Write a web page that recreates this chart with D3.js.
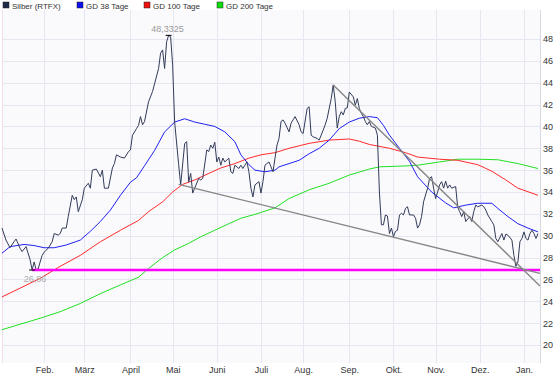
<!DOCTYPE html>
<html>
<head>
<meta charset="utf-8">
<script src="https://cdn.jsdelivr.net/npm/d3@7"></script>
<style>
  body { margin: 0; background: #fff; }
  svg { display: block; font-family: "Liberation Sans", Arial, sans-serif; }
</style>
</head>
<body>
<svg id="chart" width="553" height="376"></svg>
<script>
// trading day index (0 = 3 Jan 2011) and price
const silver = [
  [0,30.7],[2,29.6],[4,28.9],[6,29.45],[7,29.7],[9,28.85],[10,28.55],[12,29.0],[14,27.8],[15,26.86],
  [16,27.6],[17,26.9],[18,26.95],[19,27.6],[20,28.2],[21,28.5],[23,28.85],[25,29.45],[26,30.2],[28,30.05],
  [29,30.2],[30,30.7],[32,30.7],[33,31.75],[35,33.7],[36,33.3],[37,33.55],[38,32.2],[40,33.3],[41,34.35],
  [43,34.8],[44,34.35],[45,36.0],[47,36.1],[49,35.4],[50,36.0],[51,34.35],[53,34.35],[55,36.2],[56,36.6],
  [57,37.4],[59,37.2],[61,37.1],[63,37.7],[64,37.85],[65,39.2],[67,39.8],[68,40.1],[69,40.9],[70,40.15],
  [71,40.45],[73,42.25],[75,43.2],[76,43.9],[78,45.3],[79,46.7],[80,47.0],[81,45.3],[82,47.75],[83,48.3325],
  [84,48.2],[85,45.6],[86,40.4],[88,36.5],[89,34.65],[91,38.45],[92,38.6],[93,34.9],[94,35.7],[95,33.9],
  [96,34.35],[98,35.25],[99,35.1],[100,35.25],[102,37.85],[103,37.7],[104,38.3],[105,38.0],[106,38.55],[107,36.75],
  [108,37.2],[109,36.45],[110,37.1],[111,36.75],[113,37.1],[114,35.85],[115,35.7],[116,36.45],[118,36.15],[119,36.45],
  [120,36.15],[122,36.75],[123,35.85],[124,34.35],[125,33.55],[126,34.65],[128,34.95],[129,33.9],[130,34.95],[131,36.45],
  [133,36.75],[134,36.3],[135,35.85],[136,37.1],[137,38.3],[138,38.9],[139,40.45],[140,40.6],[141,40.3],[143,39.5],
  [144,40.3],[145,40.6],[146,40.9],[148,40.15],[149,39.5],[150,39.35],[152,41.65],[153,41.8],[154,39.2],[155,39.05],
  [157,38.9],[158,38.75],[159,39.2],[161,40.15],[162,40.75],[164,42.55],[165,43.8],[166,42.25],[167,39.85],[168,40.9],
  [169,41.35],[170,41.05],[171,41.65],[172,41.7],[173,43.15],[175,42.7],[176,41.95],[177,42.55],[178,41.65],[179,41.2],
  [180,40.9],[181,40.45],[182,40.15],[183,40.45],[184,40.0],[186,39.85],[187,39.2],[188,34.0],[189,31.0],[190,31.0],
  [191,31.9],[192,31.8],[193,30.2],[194,30.7],[195,29.9],[196,30.4],[197,30.5],[198,31.9],[199,32.05],[200,31.9],
  [201,32.5],[202,32.65],[203,31.9],[205,31.9],[206,31.6],[207,30.7],[208,31.0],[209,31.75],[210,33.1],[212,34.35],
  [213,35.25],[214,35.4],[215,34.35],[216,33.4],[217,34.0],[218,34.65],[219,34.95],[220,34.35],[221,35.0],[222,34.35],
  [223,34.65],[224,34.35],[226,34.5],[227,32.6],[228,32.2],[229,31.75],[230,32.2],[231,31.3],[233,31.75],[234,31.3],
  [235,32.2],[236,32.8],[237,32.65],[239,32.8],[240,32.65],[241,32.35],[242,31.9],[244,31.3],[245,31.0],[246,29.75],
  [247,29.45],[249,30.2],[250,29.6],[251,30.15],[252,30.05],[254,29.6],[255,28.2],[256,27.2],[257,27.6],[258,29.45],
  [259,29.75],[260,30.35],[261,29.75],[262,29.6],[263,30.2],[264,30.5],[265,30.2],[266,29.75],[267,30.2]
];

const gd38 = [
  [0,28.4],[4,29.0],[11,29.2],[16,29.1],[21,28.9],[26,28.9],[32,29.15],[39,29.6],[44,30.4],[49,31.3],
  [54,32.35],[59,33.7],[64,34.9],[67,35.3],[71,36.4],[76,37.8],[81,39.5],[86,40.4],[91,40.7],[96,40.4],
  [101,40.2],[106,40.0],[111,39.5],[116,38.6],[119,37.4],[123,36.5],[126,36.0],[131,35.85],[136,36.0],[138,36.3],
  [143,36.6],[148,36.9],[153,37.5],[158,38.0],[163,38.75],[168,39.8],[173,40.4],[178,40.75],[183,40.9],[187,40.8],
  [190,40.1],[193,39.2],[198,38.0],[203,36.8],[207,35.4],[214,34.0],[221,33.0],[225,32.55],[231,32.8],[237,32.97],
  [244,32.97],[247,32.5],[252,31.75],[257,31.1],[262,30.7],[267,30.35]
];

const gd100 = [
  [0,24.4],[9,25.2],[19,26.1],[29,27.2],[39,28.2],[49,29.45],[59,30.5],[68,31.4],[73,32.2],[80,33.1],
  [85,34.0],[90,34.7],[96,35.1],[103,35.7],[109,36.2],[116,36.6],[123,37.1],[129,37.4],[136,37.6],[143,38.0],
  [153,38.45],[163,38.75],[173,38.85],[178,38.65],[183,38.35],[193,38.0],[201,37.6],[207,37.2],[218,37.0],[227,36.9],
  [237,36.5],[244,35.9],[251,35.1],[257,34.35],[267,33.7]
];

const gd200 = [
  [0,21.4],[9,21.9],[19,22.45],[29,23.05],[39,23.8],[49,24.7],[59,25.5],[68,26.2],[73,27.0],[80,28.0],
  [86,28.7],[93,29.3],[99,29.9],[106,30.5],[113,31.1],[119,31.6],[126,31.95],[136,32.55],[143,33.4],[153,34.2],
  [163,34.8],[173,35.55],[183,36.1],[188,36.3],[203,36.4],[207,36.45],[218,36.75],[227,37.0],[237,37.0],[247,36.95],
  [257,36.6],[267,36.15]
];

// trend lines (start / end)
const trendLow = [[88,34.7],[268,26.56]];
const trendHigh = [[165,43.8],[268,25.4]];

const monthDays = [21,41,64,85,107,129,150,173,195,216,238,260];
const monthLabels = ["Feb.","März","April","Mai","Juni","Juli","Aug.","Sep.","Okt.","Nov.","Dez.","Jan."];
const yTicks = [20,22,24,26,28,30,32,34,36,38,40,42,44,46,48];

const legendItems = [
  {name: "Silber (RTFX)", color: "#1e2a48"},
  {name: "GD 38 Tage", color: "#1010ee"},
  {name: "GD 100 Tage", color: "#ee1010"},
  {name: "GD 200 Tage", color: "#10dd10"}
];

const svg = d3.select("#chart");
const plotLeft = 2, plotRight = 540, plotTop = 10, plotBottom = 363;

const x = d3.scaleLinear().domain([0, 268]).range([plotLeft, plotRight]);
const y = d3.scaleLinear().domain([20, 48]).range([345, 39]);

// plot background
svg.append("rect")
  .attr("x", plotLeft).attr("y", plotTop)
  .attr("width", plotRight - plotLeft).attr("height", plotBottom - plotTop)
  .attr("fill", "#fafafd");

// grid
svg.append("g").selectAll("line")
  .data(yTicks)
  .enter().append("line")
  .attr("x1", plotLeft).attr("x2", plotRight)
  .attr("y1", d => Math.round(y(d)) + 0.5).attr("y2", d => Math.round(y(d)) + 0.5)
  .attr("stroke", "#e6e6f0");

svg.append("g").selectAll("line")
  .data(monthDays)
  .enter().append("line")
  .attr("x1", d => Math.round(x(d)) + 0.5).attr("x2", d => Math.round(x(d)) + 0.5)
  .attr("y1", plotTop).attr("y2", plotBottom)
  .attr("stroke", "#e6e6f0");

svg.append("line")
  .attr("x1", plotLeft + 0.5).attr("x2", plotLeft + 0.5).attr("y1", plotTop).attr("y2", plotBottom)
  .attr("stroke", "#f2dce8");

// axes
const yAxis = svg.append("g")
  .attr("transform", `translate(${plotRight},0)`)
  .call(d3.axisRight(y).tickValues(yTicks).tickSize(0).tickPadding(3));
yAxis.select(".domain").attr("stroke", "#d8d8e0").attr("d", `M0.5,${plotTop}V${plotBottom}`);
yAxis.selectAll("text").attr("font-size", "9px").attr("fill", "#333").attr("font-family", "Liberation Sans, Arial, sans-serif");

const xAxis = svg.append("g")
  .attr("transform", `translate(0,${plotBottom})`)
  .call(d3.axisBottom(x).tickValues(monthDays).tickSize(0).tickPadding(4)
    .tickFormat((d, i) => monthLabels[i]));
xAxis.select(".domain").remove();
xAxis.selectAll("text").attr("font-size", "9px").attr("fill", "#333").attr("font-family", "Liberation Sans, Arial, sans-serif");

// lines
const line = d3.line().x(d => x(d[0])).y(d => y(d[1]));

svg.append("path").datum(gd200).attr("d", line)
  .attr("fill", "none").attr("stroke", "#22e022").attr("stroke-width", 1);
svg.append("path").datum(gd100).attr("d", line)
  .attr("fill", "none").attr("stroke", "#ff2a2a").attr("stroke-width", 1);
svg.append("path").datum(gd38).attr("d", line)
  .attr("fill", "none").attr("stroke", "#2020f0").attr("stroke-width", 1);

svg.append("path").datum(silver).attr("d", line)
  .attr("fill", "none").attr("stroke", "#323b58").attr("stroke-width", 1);

// support line at the low
const minVal = d3.min(silver, d => d[1]);
const minPt = silver.find(d => d[1] === minVal);
const maxVal = d3.max(silver, d => d[1]);
const maxPt = silver.find(d => d[1] === maxVal);

svg.append("line")
  .attr("x1", x(minPt[0])).attr("x2", plotRight)
  .attr("y1", y(minVal)).attr("y2", y(minVal))
  .attr("stroke", "#ff00ff").attr("stroke-width", 2.5);

// trend lines
[trendLow, trendHigh].forEach(t => {
  svg.append("path").datum(t).attr("d", line)
    .attr("fill", "none").attr("stroke", "#858585").attr("stroke-width", 1.4);
});

// min / max markers
[minPt, maxPt].forEach(p => {
  svg.append("line")
    .attr("x1", x(p[0]) - 3).attr("x2", x(p[0]) + 3)
    .attr("y1", y(p[1])).attr("y2", y(p[1]))
    .attr("stroke", "#000").attr("stroke-width", 1);
});

const fmt = v => String(v).replace(".", ",");
svg.append("text")
  .attr("x", x(maxPt[0]) - 1).attr("y", y(maxVal) - 3)
  .attr("text-anchor", "middle").attr("font-size", "9px").attr("fill", "#999")
  .text(fmt(maxVal));
svg.append("text")
  .attr("x", x(minPt[0]) + 3).attr("y", y(minVal) + 12)
  .attr("text-anchor", "middle").attr("font-size", "9px").attr("fill", "#aaa")
  .text(fmt(minVal));

// legend
const legendX = [3, 77, 144, 217];
const legend = svg.append("g").selectAll("g")
  .data(legendItems)
  .enter().append("g")
  .attr("transform", (d, i) => `translate(${legendX[i]},0)`);
legend.append("rect")
  .attr("x", 0).attr("y", 2).attr("width", 6).attr("height", 6)
  .attr("fill", d => d.color).attr("stroke", "#222").attr("stroke-width", 0.5);
legend.append("text")
  .attr("x", 9).attr("y", 8.5)
  .attr("font-size", "8px").attr("fill", "#333")
  .text(d => d.name);
</script>
</body>
</html>
